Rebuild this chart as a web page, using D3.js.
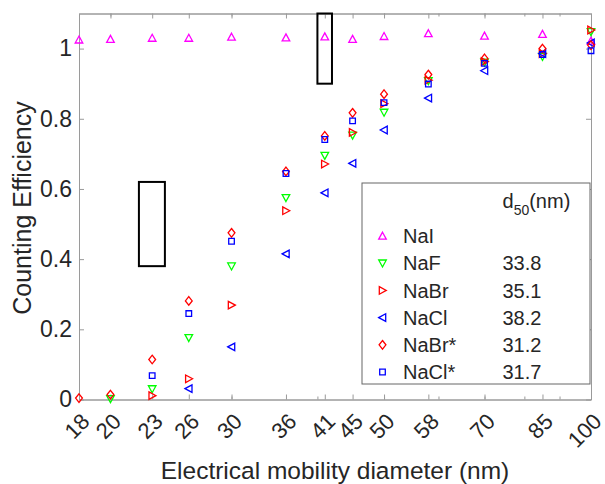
<!DOCTYPE html>
<html>
<head>
<meta charset="utf-8">
<script src="https://cdn.jsdelivr.net/npm/d3@7"></script>
<style>
  body { margin: 0; background: #fff; }
  svg { display: block; }
  text { font-family: "Liberation Sans", Arial, Helvetica, sans-serif; fill: #262626; }
</style>
</head>
<body>
<svg id="chart" width="605" height="484"></svg>
<script>
// --- data ---
const diameters = [18, 20, 23, 26, 30, 36, 41, 45, 50, 58, 70, 85, 100];
const minorTicks = [20, 30, 40, 50, 60, 70, 80, 90];
const yTicks = [0, 0.2, 0.4, 0.6, 0.8, 1];

const seriesNames = ["NaI", "NaF", "NaBr", "NaCl", "NaBr*", "NaCl*"];
const d50Values = ["", "33.8", "35.1", "38.2", "31.2", "31.7"];
const seriesColors = ["#ff00ff", "#00ff00", "#ff0000", "#0000ff", "#ff0000", "#0000ff"];
const seriesShapes = ["up", "down", "right", "left", "diamond", "square"];

const effNaI = [1.025, 1.027, 1.030, 1.030, 1.033, 1.031, 1.034, 1.027, 1.035, 1.043, 1.036, 1.041, 1.022];
const effNaF = [null, 0.002, 0.030, 0.176, 0.380, 0.575, 0.695, 0.753, 0.818, 0.908, 0.961, 0.977, 1.048];
const effNaBr = [null, null, 0.011, 0.059, 0.269, 0.538, 0.671, 0.761, 0.843, 0.910, 0.963, 0.986, 1.053];
const effNaCl = [null, null, null, 0.031, 0.150, 0.415, 0.589, 0.673, 0.768, 0.859, 0.937, 0.986, 1.016];
const effNaBrStar = [0.004, 0.014, 0.114, 0.281, 0.475, 0.650, 0.751, 0.817, 0.870, 0.926, 0.972, 1.000, 1.010];
const effNaClStar = [null, null, 0.068, 0.245, 0.451, 0.644, 0.741, 0.794, 0.846, 0.899, 0.958, 0.983, 0.994];

// annotation boxes [x0, x1, y0, y1] in data units
const boxes = [
  [22, 24, 0.38, 0.62],
  [40, 42, 0.90, 1.10],
];

const seriesData = [effNaI, effNaF, effNaBr, effNaCl, effNaBrStar, effNaClStar];

// --- scales ---
const svg = d3.select("#chart");
const x = d3.scaleLog().domain([18, 100]).range([79, 591]);
const y = d3.scaleLinear().domain([0, 1.1]).range([399.5, 13.5]);
const axisColor = "#9a9a9a";

// marker outlines, MATLAB style
const markerPath = (shape) => {
  switch (shape) {
    case "up": return "M0,-3.8L3.8,3.2L-3.8,3.2Z";
    case "down": return "M0,3.8L3.8,-3.2L-3.8,-3.2Z";
    case "right": return "M3.8,0L-3.2,3.8L-3.2,-3.8Z";
    case "left": return "M-3.8,0L3.2,3.8L3.2,-3.8Z";
    case "diamond": return "M0,-4.3L3.4,0L0,4.3L-3.4,0Z";
    default: return "M-2.8,-2.8L2.8,-2.8L2.8,2.8L-2.8,2.8Z";
  }
};

// --- axes ---
const styleAxis = (g) => {
  g.select(".domain").attr("stroke", axisColor);
  g.selectAll(".tick line").attr("stroke", axisColor);
};

const fontSize = 23;

svg.append("g")
  .attr("transform", "translate(0,399.5)")
  .call(d3.axisBottom(x).tickValues(minorTicks).tickSize(-3).tickSizeOuter(0).tickFormat(""))
  .call(styleAxis);
svg.append("g")
  .attr("transform", "translate(0,13.5)")
  .call(d3.axisTop(x).tickValues(minorTicks).tickSize(-3).tickSizeOuter(0).tickFormat(""))
  .call(styleAxis);

const xAxis = svg.append("g")
  .attr("transform", "translate(0,399.5)")
  .call(d3.axisBottom(x).tickValues(diameters).tickSize(-5).tickSizeOuter(0).tickFormat(d3.format("d")))
  .call(styleAxis);
xAxis.selectAll(".tick text")
  .attr("x", 0).attr("y", 0).attr("dy", "0.35em")
  .attr("text-anchor", "end")
  .attr("transform", "translate(6,18) rotate(-45)")
  .style("font-size", "22px")
  .attr("fill", "#262626");

svg.append("g")
  .attr("transform", "translate(0,13.5)")
  .call(d3.axisTop(x).tickValues(diameters).tickSize(-5).tickSizeOuter(0).tickFormat(""))
  .call(styleAxis);

const yAxis = svg.append("g")
  .attr("transform", "translate(79,0)")
  .call(d3.axisLeft(y).tickValues(yTicks).tickSize(-5).tickPadding(7).tickSizeOuter(0).tickFormat(d3.format("~g")))
  .call(styleAxis);
yAxis.selectAll(".tick text").style("font-size", fontSize + "px").attr("fill", "#262626");

svg.append("g")
  .attr("transform", "translate(591,0)")
  .call(d3.axisRight(y).tickValues(yTicks).tickSize(-5).tickSizeOuter(0).tickFormat(""))
  .call(styleAxis);

// axis titles
svg.append("text")
  .attr("x", 335).attr("y", 479)
  .attr("text-anchor", "middle")
  .style("font-size", "24.5px")
  .text("Electrical mobility diameter (nm)");
svg.append("text")
  .attr("transform", "translate(31,208) rotate(-90)")
  .attr("text-anchor", "middle")
  .style("font-size", "25px")
  .text("Counting Efficiency");

// --- annotation boxes ---
svg.append("g").selectAll("rect")
  .data(boxes)
  .join("rect")
  .attr("x", (d) => x(d[0]))
  .attr("y", (d) => y(d[3]))
  .attr("width", (d) => x(d[1]) - x(d[0]))
  .attr("height", (d) => y(d[2]) - y(d[3]))
  .attr("fill", "none")
  .attr("stroke", "#000")
  .attr("stroke-width", 2);

// --- markers ---
seriesData.forEach((values, i) => {
  const points = diameters
    .map((d, j) => ({ d, v: values[j] }))
    .filter((p) => p.v !== null);
  svg.append("g").selectAll("path")
    .data(points)
    .join("path")
    .attr("transform", (p) => `translate(${x(p.d)},${y(p.v)})`)
    .attr("d", markerPath(seriesShapes[i]))
    .attr("fill", "none")
    .attr("stroke", seriesColors[i])
    .attr("stroke-width", 1.3);
});

// --- legend ---
const legend = svg.append("g");
legend.append("rect")
  .attr("x", 362).attr("y", 183)
  .attr("width", 228).attr("height", 201)
  .attr("fill", "#fff")
  .attr("stroke", "#666")
  .attr("stroke-width", 1);

const header = legend.append("text")
  .attr("x", 502.5).attr("y", 207.5)
  .style("font-size", "20px");
header.append("tspan").text("d");
header.append("tspan").attr("dy", 7).style("font-size", "14px").text("50");
header.append("tspan").attr("dy", -7).text("(nm)");

const rowY = (i) => 236 + i * 27.2;
seriesNames.forEach((name, i) => {
  legend.append("path")
    .attr("transform", `translate(382.5,${rowY(i)})`)
    .attr("d", markerPath(seriesShapes[i]))
    .attr("fill", "none")
    .attr("stroke", seriesColors[i])
    .attr("stroke-width", 1.3);
  legend.append("text")
    .attr("x", 403).attr("y", rowY(i)).attr("dy", "0.36em")
    .style("font-size", "20px")
    .text(name);
  legend.append("text")
    .attr("x", 502.5).attr("y", rowY(i)).attr("dy", "0.36em")
    .style("font-size", "20px")
    .text(d50Values[i]);
});
</script>
</body>
</html>
